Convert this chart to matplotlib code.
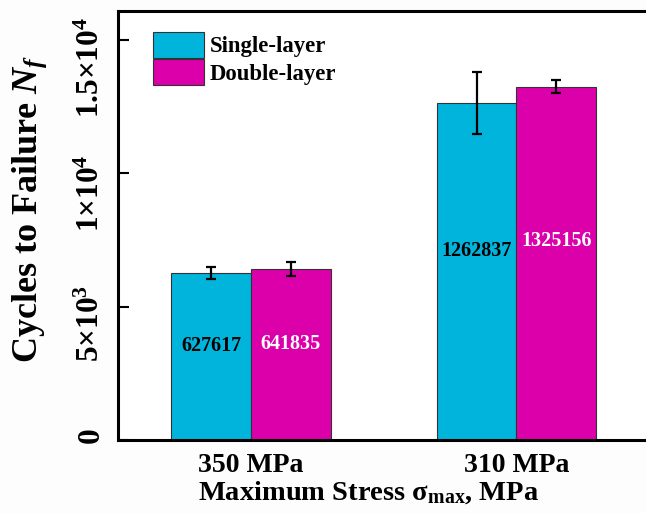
import numpy as np
import matplotlib.pyplot as plt
from matplotlib.transforms import ScaledTranslation

# Fatigue life data
stress_levels = ['350 MPa', '310 MPa']
single_layer = [627617, 1262837]
double_layer = [641835, 1325156]
single_err = [22500, 115000]
double_err = [27000, 24000]
ytick_values = [0, 500000, 1000000, 1500000]
ytick_labels = ['0', '5×10$^{3}$', '1×10$^{4}$', '1.5×10$^{4}$']

plt.rcParams['font.family'] = 'Liberation Serif'
plt.rcParams['font.weight'] = 'bold'
plt.rcParams['mathtext.fontset'] = 'custom'
plt.rcParams['mathtext.rm'] = 'Liberation Serif:bold'
plt.rcParams['mathtext.bf'] = 'Liberation Serif:bold'
plt.rcParams['mathtext.it'] = 'Liberation Serif:bold:italic'

cyan = '#00B4DC'
magenta = '#DC00AA'

fig = plt.figure(figsize=(6.46, 5.13), dpi=100)
fig.patch.set_facecolor('#fdfdfd')
ax = fig.add_axes([0.183, 0.142, 0.822, 0.836])
ax.set_facecolor('white')

x = np.arange(len(stress_levels))
w = 0.3
ax.bar(x - w / 2, single_layer, w, color=cyan, edgecolor='#333333', linewidth=0.8,
       label='Single-layer', zorder=2)
ax.bar(x + w / 2, double_layer, w, color=magenta, edgecolor='#333333', linewidth=0.8,
       label='Double-layer', zorder=2)
ax.errorbar(x - w / 2, single_layer, yerr=single_err, fmt='none', ecolor='black',
            elinewidth=1.6, capsize=3.8, capthick=1.6, zorder=3)
ax.errorbar(x + w / 2, double_layer, yerr=double_err, fmt='none', ecolor='black',
            elinewidth=1.6, capsize=3.8, capthick=1.6, zorder=3)

# value labels inside the bars
for xi, v in zip(x - w / 2, single_layer):
    ax.text(xi, v * 0.562, str(v), ha='center', va='center', fontsize=14.5,
            fontweight='bold', color='black', zorder=4)
for xi, v in zip(x + w / 2, double_layer):
    ax.text(xi, v * 0.562, str(v), ha='center', va='center', fontsize=14.5,
            fontweight='bold', color='white', zorder=4)

ax.set_xlim(-0.5, 1.5)
ax.set_ylim(0, 1607000)
ax.set_xticks(x)
ax.set_xticklabels(stress_levels, fontsize=20, fontweight='bold')
ax.set_yticks(ytick_values)
ax.set_yticklabels(ytick_labels, fontsize=22.5, rotation=90, va='center')
ax.tick_params(axis='y', direction='in', length=8, width=1.5, pad=9)
ax.tick_params(axis='x', length=0, pad=9)

# nudge the rotated y tick labels downward (pixels)
for lbl, dy in zip(ax.get_yticklabels(), [-5, 17, 20, 28]):
    lbl.set_transform(lbl.get_transform() + ScaledTranslation(0, -dy / 100, fig.dpi_scale_trans))

for side in ['left', 'bottom', 'top']:
    ax.spines[side].set_linewidth(2.2)
ax.spines['right'].set_visible(False)

ax.set_xlabel(r'Maximum Stress σ$_{\mathbf{max}}$, MPa', fontsize=20.5, fontweight='bold')
ax.xaxis.set_label_coords(0.471, -0.092)
ax.set_ylabel(r'Cycles to Failure $N_f$', fontsize=26, fontweight='bold')
ax.yaxis.set_label_coords(-0.13, 0.54)

ax.legend(loc='upper left', bbox_to_anchor=(0.035, 0.99), frameon=False,
          prop={'size': 16.4, 'weight': 'bold'}, handlelength=2.24, handleheight=1.4,
          labelspacing=0.05, handletextpad=0.25, borderaxespad=0.3)

plt.savefig('out.png', dpi=100, facecolor=fig.get_facecolor())
